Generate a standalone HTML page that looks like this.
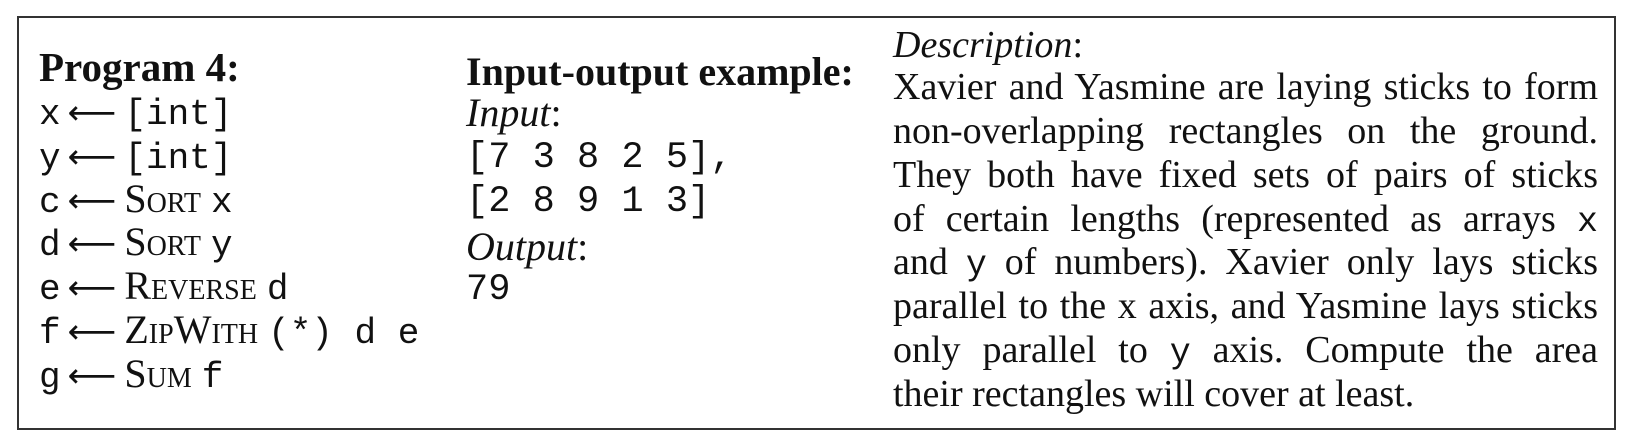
<!DOCTYPE html>
<html><head><meta charset="utf-8">
<style>
html,body{margin:0;padding:0;background:#fff;}
body{width:1632px;height:446px;position:relative;overflow:hidden;font-family:"Liberation Serif",serif;color:#111;}
.box{position:absolute;left:17px;top:16px;width:1599px;height:414px;border:2px solid #333;box-sizing:border-box;}
.l{position:absolute;white-space:nowrap;font-size:40px;line-height:44px;}
.m{font-family:"Liberation Mono",monospace;font-size:36px;}
.sc{font-variant:small-caps;}
.b{font-weight:bold;}
.i{font-style:italic;}
.ar{font-family:"DejaVu Sans",sans-serif;font-size:34px;display:inline-block;margin:0 8px 0 7px;}
.d{position:absolute;left:893px;width:705px;font-size:38px;line-height:44px;text-align:justify;text-align-last:justify;white-space:nowrap;}
.d.last{text-align-last:left;}
.d .m{font-size:35px;}
</style></head><body>
<div class="box"></div>

<div>
<div class="l b" style="left:39px;top:45px;font-size:41px;">Program 4:</div>
<div class="l" style="left:39px;top:89px;"><span class="m">x</span><span class="ar">⟵</span><span class="m">[int]</span></div>
<div class="l" style="left:39px;top:133px;"><span class="m">y</span><span class="ar">⟵</span><span class="m">[int]</span></div>
<div class="l" style="left:39px;top:177px;"><span class="m">c</span><span class="ar">⟵</span><span class="sc">Sort</span> <span class="m">x</span></div>
<div class="l" style="left:39px;top:220px;"><span class="m">d</span><span class="ar">⟵</span><span class="sc">Sort</span> <span class="m">y</span></div>
<div class="l" style="left:39px;top:264px;"><span class="m">e</span><span class="ar">⟵</span><span class="sc">Reverse</span> <span class="m">d</span></div>
<div class="l" style="left:39px;top:308px;"><span class="m">f</span><span class="ar">⟵</span><span class="sc">ZipWith</span> <span class="m">(*) d e</span></div>
<div class="l" style="left:39px;top:352px;"><span class="m">g</span><span class="ar">⟵</span><span class="sc">Sum</span> <span class="m">f</span></div>
</div>

<div>
<div class="l b" style="left:466px;top:50px;">Input-output example:</div>
<div class="l i" style="left:466px;top:91px;">Input<span style="font-style:normal">:</span></div>
<div class="l m" style="left:466px;top:136px;font-size:37px;">[7 3 8 2 5],</div>
<div class="l m" style="left:466px;top:180px;font-size:37px;">[2 8 9 1 3]</div>
<div class="l i" style="left:466px;top:225px;">Output<span style="font-style:normal">:</span></div>
<div class="l m" style="left:466px;top:268px;font-size:37px;">79</div>
</div>

<div>
<div class="l i" style="left:893px;top:23px;font-size:38px;">Description<span style="font-style:normal">:</span></div>
<div class="d" style="top:65px;">Xavier and Yasmine are laying sticks to form</div>
<div class="d" style="top:109px;">non-overlapping rectangles on the ground.</div>
<div class="d" style="top:153px;">They both have fixed sets of pairs of sticks</div>
<div class="d" style="top:197px;">of certain lengths (represented as arrays <span class="m">x</span></div>
<div class="d" style="top:240px;">and <span class="m">y</span> of numbers). Xavier only lays sticks</div>
<div class="d" style="top:284px;">parallel to the x axis, and Yasmine lays sticks</div>
<div class="d" style="top:328px;">only parallel to <span class="m">y</span> axis. Compute the area</div>
<div class="d last" style="top:372px;">their rectangles will cover at least.</div>
</div>
</body></html>
